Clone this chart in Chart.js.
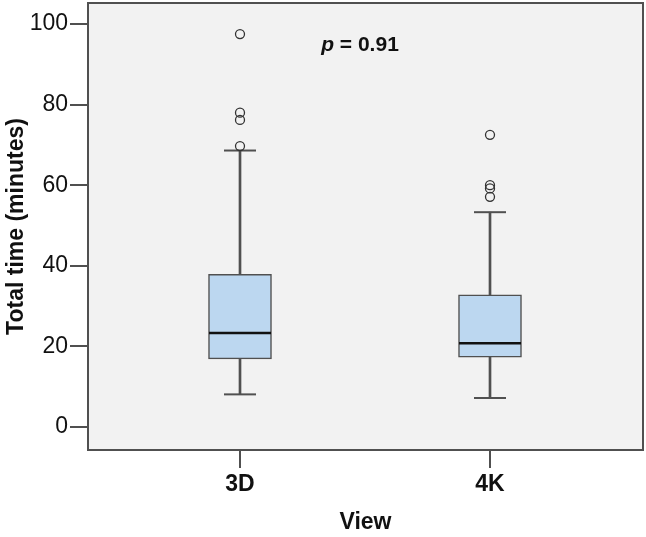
<!DOCTYPE html>
<html>
<head>
<meta charset="utf-8">
<script src="https://cdn.jsdelivr.net/npm/chart.js@4"></script>
<style>
html,body{margin:0;padding:0;background:#fff;}
#wrap{width:646px;height:537px;}
</style>
</head>
<body>
<div id="wrap"><canvas id="c" width="646" height="537"></canvas></div>
<script>
// ---- data ----
const categories = ['3D', '4K'];
const positions = [1, 2];
const whiskerLow = [8.1, 7.2];
const q1 = [16.9, 17.3];
const median = [23.3, 20.8];
const q3 = [37.9, 32.8];
const whiskerHigh = [68.6, 53.3];
const outliers3D = [97.5, 78.0, 76.2, 69.7];
const outliers4K = [72.5, 60.0, 59.2, 57.1];
const yTicks = [0, 20, 40, 60, 80, 100];
const pText = {x: 1.48, y: 94.8, label: 'p', value: ' = 0.91'};

const FONT = "'Liberation Sans',Arial,sans-serif";
const LINE = '#505050';

const pts = (vals) => positions.map((x, i) => ({x: x, y: vals[i]}));
const outlierPts = [].concat(
  outliers3D.map(v => ({x: positions[0], y: v})),
  outliers4K.map(v => ({x: positions[1], y: v}))
);

const bgPlugin = {
  id: 'bg',
  beforeDraw(chart) {
    const {ctx, chartArea: a} = chart;
    ctx.save();
    ctx.fillStyle = '#f2f2f2';
    ctx.fillRect(a.left, a.top, a.right - a.left, a.bottom - a.top);
    ctx.restore();
  },
  afterDraw(chart) {
    const {ctx, chartArea: a, scales} = chart;
    ctx.save();
    ctx.strokeStyle = LINE;
    ctx.lineWidth = 2;
    ctx.strokeRect(a.left, a.top, a.right - a.left, a.bottom - a.top);
    // p-value annotation
    const x = scales.x.getPixelForValue(pText.x);
    const y = scales.y.getPixelForValue(pText.y);
    ctx.fillStyle = '#111';
    ctx.textBaseline = 'middle';
    const f1 = "italic bold 21px " + FONT;
    const f2 = "bold 21px " + FONT;
    ctx.font = f1;
    const w1 = ctx.measureText(pText.label).width;
    ctx.font = f2;
    const w2 = ctx.measureText(pText.value).width;
    const start = x - (w1 + w2) / 2;
    ctx.font = f1;
    ctx.textAlign = 'left';
    ctx.fillText(pText.label, start, y);
    ctx.font = f2;
    ctx.fillText(pText.value, start + w1, y);
    ctx.restore();
  }
};

new Chart(document.getElementById('c'), {
  data: {
    datasets: [
      {
        type: 'bar',
        data: positions.map((x, i) => ({x: x, y: [whiskerLow[i], whiskerHigh[i]]})),
        backgroundColor: LINE,
        borderWidth: 0,
        barThickness: 2,
        grouped: false,
        order: 4
      },
      {
        type: 'bar',
        data: positions.map((x, i) => ({x: x, y: [q1[i], q3[i]]})),
        backgroundColor: '#bcd7f0',
        borderColor: LINE,
        borderWidth: 1.5,
        borderSkipped: false,
        barThickness: 63,
        grouped: false,
        order: 3
      },
      {
        type: 'line',
        data: pts(median),
        showLine: false,
        pointStyle: 'line',
        pointRadius: 31,
        borderColor: '#111',
        pointBorderWidth: 2.5,
        order: 2
      },
      {
        type: 'line',
        data: pts(whiskerLow).concat(pts(whiskerHigh)),
        showLine: false,
        pointStyle: 'line',
        pointRadius: 16,
        borderColor: LINE,
        pointBorderWidth: 2,
        order: 2
      },
      {
        type: 'line',
        data: outlierPts,
        showLine: false,
        pointStyle: 'circle',
        pointRadius: 4.5,
        borderColor: '#333',
        backgroundColor: 'rgba(0,0,0,0)',
        pointBorderWidth: 1.3,
        order: 1
      }
    ]
  },
  options: {
    responsive: false,
    animation: false,
    events: [],
    layout: {autoPadding: false, padding: {left: 0, right: 3, top: 3, bottom: 0}},
    plugins: {legend: {display: false}, tooltip: {enabled: false}},
    scales: {
      x: {
        type: 'linear',
        offset: false,
        min: 0.392,
        max: 2.612,
        afterBuildTicks(scale) { scale.ticks = positions.map(v => ({value: v})); },
        afterFit(scale) { scale.height = 87; scale.paddingLeft = 0; scale.paddingRight = 0; },
        grid: {offset: false, drawOnChartArea: false, drawTicks: true, tickLength: 18, color: LINE, lineWidth: 2},
        border: {display: true, color: LINE, width: 2},
        ticks: {
          callback: (v) => categories[positions.indexOf(v)],
          font: {family: FONT, size: 23, weight: 'bold'},
          color: '#111',
          padding: 3,
          maxRotation: 0
        },
        title: {display: true, text: 'View', font: {family: FONT, size: 23, weight: 'bold'}, color: '#111', padding: {top: 0, bottom: 1}}
      },
      y: {
        type: 'linear',
        offset: false,
        min: -5.7,
        max: 105.2,
        afterBuildTicks(scale) { scale.ticks = yTicks.map(v => ({value: v})); },
        afterFit(scale) { scale.width = 88; scale.paddingTop = 0; scale.paddingBottom = 0; },
        grid: {offset: false, drawOnChartArea: false, drawTicks: true, tickLength: 18, color: LINE, lineWidth: 2},
        border: {display: true, color: LINE, width: 2},
        ticks: {
          font: {family: FONT, size: 23},
          color: '#111',
          padding: 2
        },
        title: {display: true, text: 'Total time (minutes)', font: {family: FONT, size: 23, weight: 'bold'}, color: '#111', padding: {top: 3, bottom: 0}}
      }
    }
  },
  plugins: [bgPlugin]
});
</script>
</body>
</html>
